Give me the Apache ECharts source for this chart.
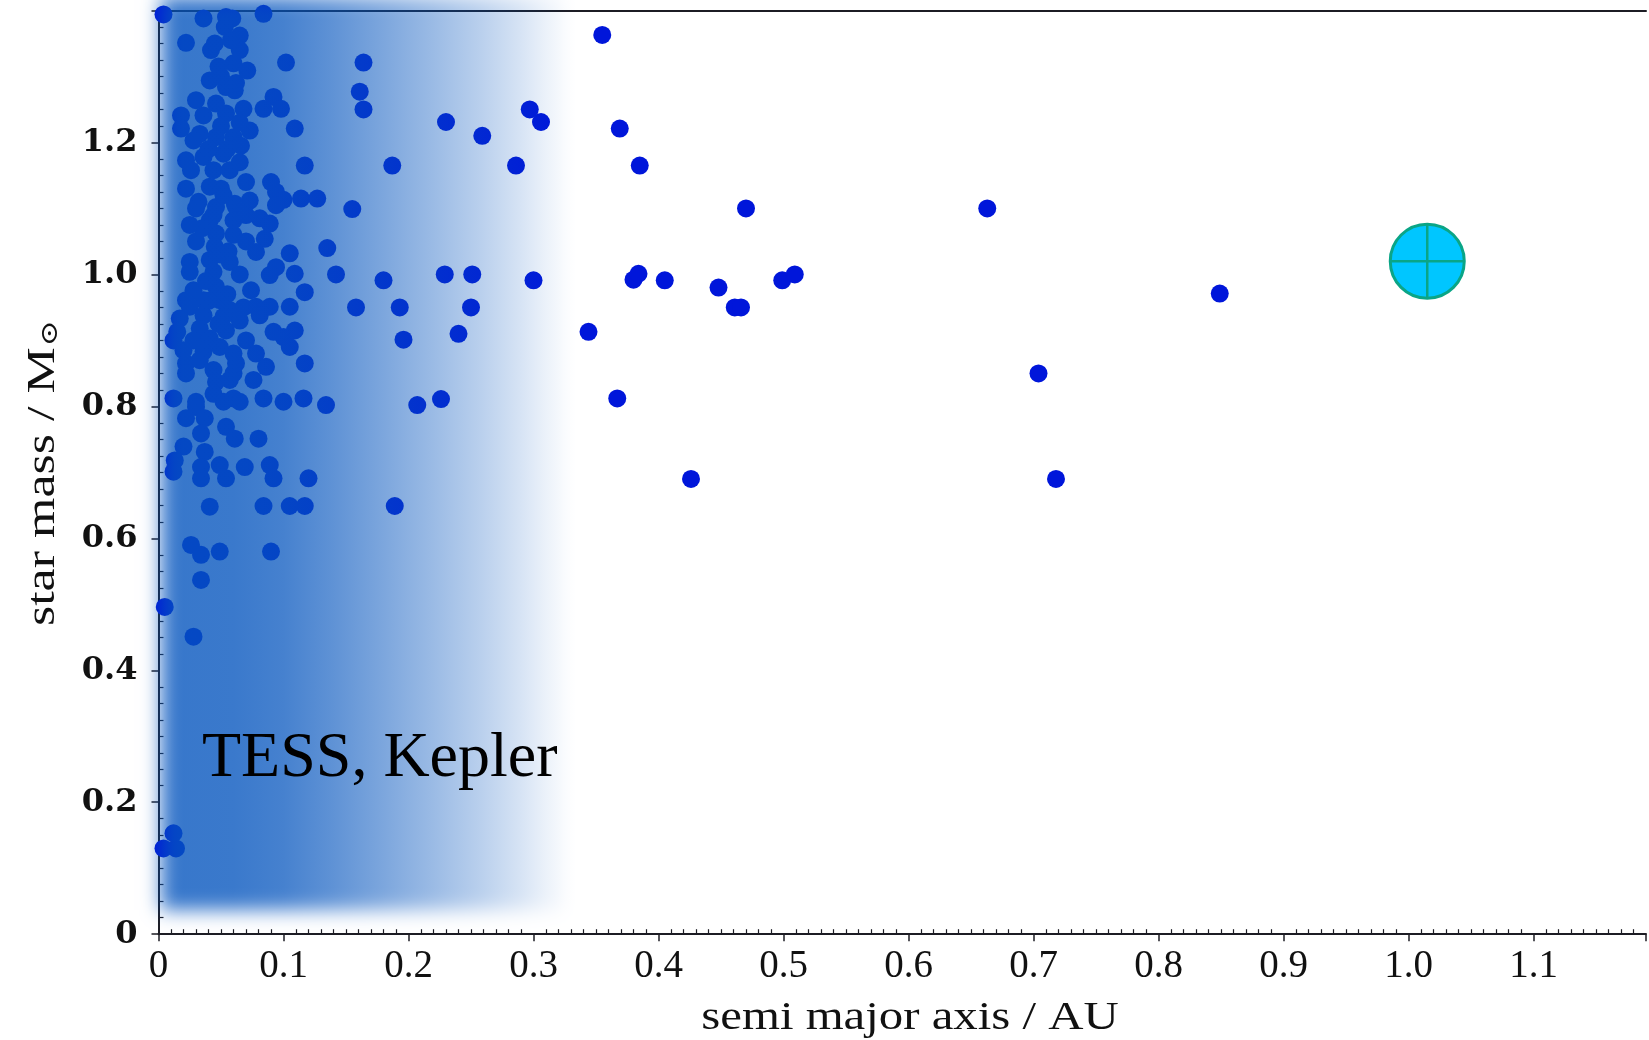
<!DOCTYPE html>
<html>
<head>
<meta charset="utf-8">
<script src="https://cdn.jsdelivr.net/npm/echarts@6/dist/echarts.min.js"></script>
<style>
html,body{margin:0;padding:0;background:#ffffff;}
#chart{width:1649px;height:1040px;}
</style>
</head>
<body>
<div id="chart"></div>
<script>
// ---- data ----
const planetA = [
  0.355,0.369,0.385,0.470,0.663,0.380,0.384,0.405,0.448,0.461,0.466,0.499,0.509,0.849,0.367,0.704,0.426,0.718,0.344,
  0.164,0.161,0.164,0.230,0.259,0.297,0.306,0.187,0.286,0.155,0.135,0.142,0.180,0.229,0.251,0.300,0.158,0.193,0.250,0.196,0.240,0.134,0.207,0.226,0.189,
  0.004,0.036,0.054,0.059,0.084,0.053,0.065,0.022,0.042,0.065,0.102,0.071,0.041,0.054,0.061,0.092,0.030,0.046,0.068,0.084,0.098,0.018,0.036,0.054,0.018,0.073,0.109,0.033,0.046,0.060,0.028,0.022,0.036,0.052,0.117,0.026,0.044,0.057,0.022,0.041,0.090,0.094,0.100,0.114,0.127,0.073,0.032,0.061,
  0.030,0.046,0.062,0.094,0.041,0.060,0.081,0.089,0.046,0.085,0.045,0.078,0.105,0.025,0.041,0.057,0.094,0.025,0.044,0.089,0.109,0.028,0.046,0.074,0.117,0.022,0.036,0.049,0.025,0.057,0.078,0.089,0.105,0.017,0.036,0.052,0.081,0.015,0.033,0.054,0.092,0.109,0.012,0.028,0.041,0.100,0.020,0.036,0.049,0.105,0.022,0.060,0.078,0.117,0.033,0.022,0.044,0.086,0.076,0.046,0.057,0.012,0.030,0.044,0.060,0.084,0.100,0.116,
  0.052,0.065,0.030,0.022,0.037,0.034,0.054,0.061,0.080,0.020,0.037,0.013,0.012,0.034,0.049,0.069,0.089,0.034,0.054,0.092,0.120,0.041,0.084,0.105,0.117,0.026,0.034,0.049,0.090,0.034,0.005,0.028,
  0.004,0.014,0.012,
  0.050,0.060,0.050,0.065,0.055,0.065,0.070,0.050,0.060,0.070,0.050,0.065,0.055,0.065,0.070,0.060,0.040,0.030,0.035,0.025,0.068,0.070,
  0.045,0.058,0.048,0.062,0.040,0.052,0.066,0.044,0.056,0.038,0.048,0.062
];
const starMass = [
  1.363,1.221,1.165,1.100,1.100,0.992,1.001,0.991,0.980,0.950,0.950,0.991,1.000,0.971,0.812,0.850,0.690,0.690,0.913,
  1.321,1.277,1.250,1.231,1.210,1.250,1.231,1.165,1.165,1.099,1.040,1.000,0.991,1.000,1.000,0.991,0.950,0.950,0.950,0.901,0.910,0.802,0.802,0.811,0.649,
  1.394,1.388,1.390,1.388,1.395,1.375,1.362,1.351,1.340,1.340,1.321,1.309,1.294,1.284,1.279,1.269,1.264,1.259,1.251,1.251,1.251,1.241,1.241,1.244,1.221,1.218,1.221,1.213,1.208,1.208,1.203,1.173,1.178,1.183,1.165,1.158,1.158,1.158,1.130,1.133,1.140,1.125,1.113,1.115,1.115,1.112,1.110,1.107,
  1.100,1.102,1.102,1.105,1.082,1.082,1.085,1.077,1.062,1.054,1.042,1.034,1.032,1.019,1.022,1.019,1.011,1.004,1.004,0.999,1.001,0.976,0.981,0.976,0.973,0.961,0.961,0.961,0.951,0.946,0.951,0.951,0.951,0.933,0.938,0.936,0.938,0.913,0.918,0.915,0.913,0.915,0.900,0.900,0.903,0.905,0.885,0.883,0.890,0.890,0.865,0.880,0.880,0.865,0.870,0.850,0.855,0.860,0.840,0.837,0.840,0.812,0.807,0.819,0.812,0.812,0.807,0.812,
  0.807,0.807,0.799,0.782,0.782,0.759,0.769,0.751,0.751,0.739,0.731,0.718,0.701,0.708,0.711,0.708,0.711,0.691,0.691,0.691,0.691,0.648,0.649,0.649,0.649,0.590,0.575,0.580,0.580,0.537,0.496,0.451,
  0.130,0.130,0.153,
  1.300,1.320,1.225,1.230,1.190,1.170,1.140,1.130,1.060,1.050,1.030,1.000,0.970,0.930,0.900,0.850,0.960,1.050,1.070,1.075,0.950,1.090,
  1.350,1.355,1.315,1.290,1.190,1.120,1.195,1.090,1.035,0.990,0.925,0.865
];
const earthA = [1.015];
const earthM = [1.020];
const tessRegionA = [0.002, 0.335];
const tessRegionM = [0.037, 1.42];
const xTickLabels = ['0','0.1','0.2','0.3','0.4','0.5','0.6','0.7','0.8','0.9','1.0','1.1'];
const yTickLabels = ['0','0.2','0.4','0.6','0.8','1.0','1.2'];
const regionLabel = 'TESS, Kepler';
const xTitle = 'semi major axis / AU';

// ---- build ----
const points = planetA.map((a, i) => [a, starMass[i]]);
const earth = earthA.map((a, i) => [a, earthM[i]]);
const regionData = [[tessRegionA[0], tessRegionM[1], tessRegionA[1], tessRegionM[0]]];

function lookup(labels, step) {
  return function (v) {
    const i = Math.round(v / step);
    if (Math.abs(v - i * step) < 1e-6 && labels[i] !== undefined) return labels[i];
    return '';
  };
}

const ovC = '5,85,190';
const ovStops = [
  [0, 0.80], [0.174, 0.79], [0.294, 0.74], [0.414, 0.64], [0.535, 0.52],
  [0.655, 0.40], [0.775, 0.27], [0.865, 0.16], [0.925, 0.08], [0.97, 0.025], [1, 0]
].map(s => ({ offset: s[0], color: 'rgba(' + ovC + ',' + s[1] + ')' }));

const axisColor = '#1c1c24';
const chart = echarts.init(document.getElementById('chart'), null, { renderer: 'canvas' });
chart.setOption({
  backgroundColor: '#ffffff',
  animation: false,
  grid: { left: 158.5, right: 0, top: 10.5, bottom: 105.8, containLabel: false },
  xAxis: [{
    type: 'value', min: 0, max: 1.19, interval: 0.1,
    axisLine: { show: true, onZero: false, lineStyle: { color: axisColor, width: 2 } },
    axisTick: { show: true, inside: false, length: 7, lineStyle: { color: axisColor, width: 1.5 } },
    minorTick: { show: true, splitNumber: 10, length: -5, lineStyle: { color: axisColor, width: 1.2 } },
    splitLine: { show: false },
    axisLabel: { formatter: lookup(xTickLabels, 0.1), margin: 13, fontFamily: 'Liberation Serif', fontSize: 39, color: '#111', showMaxLabel: true }
  }, {
    type: 'value', min: 0, max: 1.19, position: 'top',
    axisLine: { show: true, onZero: false, lineStyle: { color: axisColor, width: 2 } },
    axisTick: { show: false }, axisLabel: { show: false }, splitLine: { show: false }
  }],
  yAxis: {
    type: 'value', min: 0, max: 1.4, interval: 0.2,
    axisLine: { show: true, onZero: false, lineStyle: { color: axisColor, width: 2 } },
    axisTick: { show: true, inside: false, length: 7, lineStyle: { color: axisColor, width: 1.5 } },
    minorTick: { show: true, splitNumber: 8, length: -5, lineStyle: { color: axisColor, width: 1.2 } },
    splitLine: { show: false },
    axisLabel: { formatter: lookup(yTickLabels, 0.2), margin: 21, fontFamily: 'DejaVu Serif', fontWeight: 'bold', fontSize: 32, color: '#111' }
  },
  series: [{
    type: 'scatter', name: 'planets', data: points, symbol: 'circle', symbolSize: 18,
    itemStyle: { color: '#0016da', opacity: 1 }, z: 2, silent: true, clip: true
  }, {
    type: 'custom', name: 'TESS, Kepler region', data: regionData, z: 3, silent: true, clip: false,
    renderItem: function (params, api) {
      const p1 = api.coord([api.value(0), api.value(1)]);
      const p2 = api.coord([api.value(2), api.value(3)]);
      const OFF = 5000;
      return {
        type: 'rect',
        shape: { x: p1[0] - OFF, y: p1[1], width: p2[0] - p1[0], height: p2[1] - p1[1] },
        style: {
          fill: { type: 'linear', x: 0, y: 0, x2: 1, y2: 0, colorStops: ovStops },
          shadowBlur: 18, shadowColor: 'rgb(' + ovC + ')', shadowOffsetX: OFF, shadowOffsetY: 0
        }
      };
    }
  }, {
    type: 'custom', name: 'Earth', data: earth, z: 4, silent: true, clip: false,
    renderItem: function (params, api) {
      const c = api.coord([api.value(0), api.value(1)]);
      const r = 37;
      const st = '#0aa586';
      return {
        type: 'group', children: [
          { type: 'circle', shape: { cx: c[0], cy: c[1], r: r }, style: { fill: '#00c6ff', stroke: st, lineWidth: 3 } },
          { type: 'line', shape: { x1: c[0] - r, y1: c[1], x2: c[0] + r, y2: c[1] }, style: { stroke: st, lineWidth: 2.5 } },
          { type: 'line', shape: { x1: c[0], y1: c[1] - r, x2: c[0], y2: c[1] + r }, style: { stroke: st, lineWidth: 2.5 } }
        ]
      };
    }
  }],
  graphic: [{
    type: 'text', left: 202, top: 727, z: 100, silent: true,
    style: { text: regionLabel, fontFamily: 'Liberation Serif', fontSize: 64, fill: '#000' }
  }, {
    type: 'text', x: 910, y: 1018, z: 100, silent: true, scaleX: 1.22,
    style: { text: xTitle, fontFamily: 'Liberation Serif', fontSize: 40, fill: '#111', align: 'center', verticalAlign: 'middle' }
  }, {
    type: 'text', x: 41, y: 473, z: 100, silent: true, rotation: Math.PI / 2, scaleX: 1.3,
    style: {
      text: '{n|star mass / M}{s|⊙}', align: 'center', verticalAlign: 'middle', fill: '#111',
      rich: {
        n: { fontFamily: 'Liberation Serif', fontSize: 40, lineHeight: 44, verticalAlign: 'bottom' },
        s: { fontFamily: 'DejaVu Serif', fontSize: 24, lineHeight: 44, verticalAlign: 'bottom', padding: [14, 0, 0, 1] }
      }
    }
  }]
});
</script>
</body>
</html>
